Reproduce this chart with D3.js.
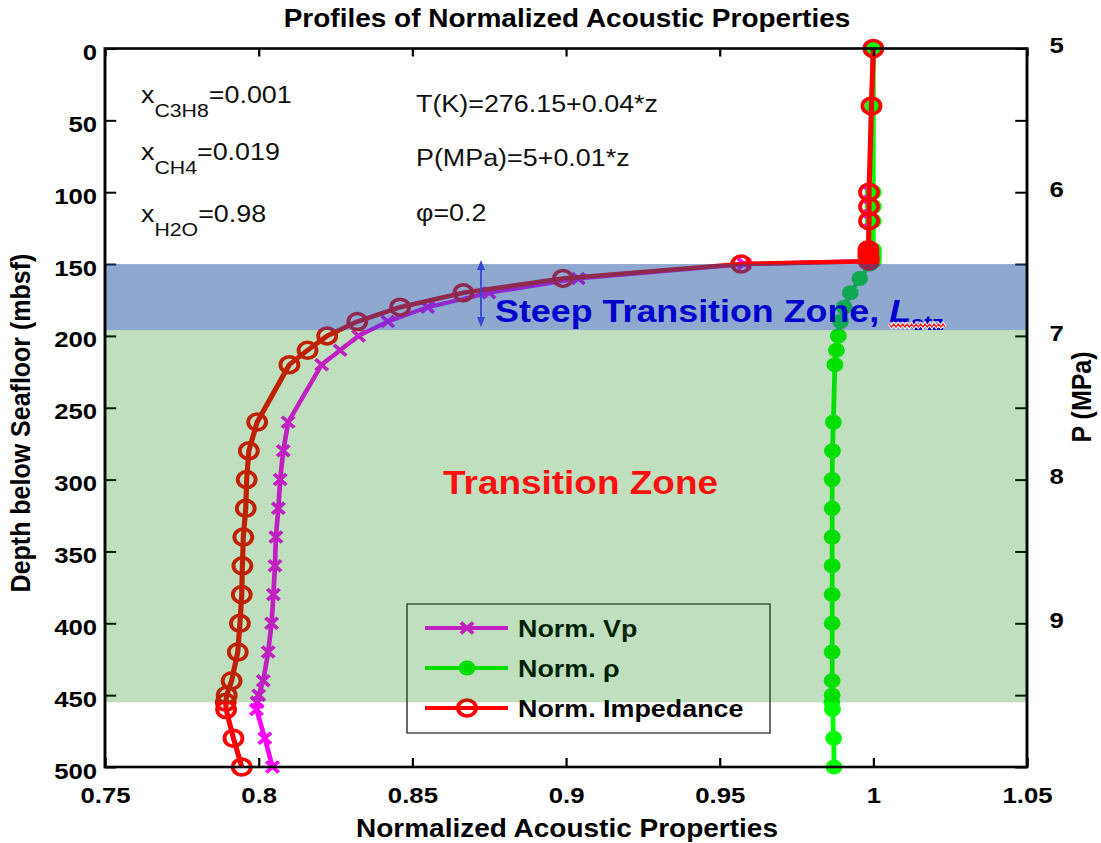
<!DOCTYPE html>
<html>
<head>
<meta charset="utf-8">
<script src="https://cdn.jsdelivr.net/npm/d3@7"></script>
<style>
  body { margin: 0; background: #fff; }
  svg { display: block; }
  text { font-family: "Liberation Sans", Arial, Helvetica, sans-serif; }
</style>
</head>
<body>
<div id="chart"></div>
<script>
// Depth samples (m below seafloor) and normalized acoustic properties
const depth = [0, 40, 100, 110, 120, 140, 142, 144, 146, 148, 150, 160, 170, 180, 190,
  200, 210, 220, 260, 280, 300, 320, 340, 360, 380, 400, 420, 440, 450, 455, 460, 480, 500];
const normVp = [1.0000, 0.9995, 0.9990, 0.9990, 0.9990, 0.9988, 0.9988, 0.9987, 0.9986, 0.9985,
  0.9580, 0.9040, 0.8750, 0.8550, 0.8420, 0.8325, 0.8265, 0.8205, 0.8096, 0.8080, 0.8070,
  0.8064, 0.8056, 0.8053, 0.8048, 0.8042, 0.8031, 0.8015, 0.8000, 0.7995, 0.7993, 0.8020, 0.8045];
const normRho = [1.0000, 1.0000, 1.0000, 1.0000, 1.0000, 1.0000, 1.0000, 1.0000, 1.0000, 1.0000,
  0.9990, 0.9956, 0.9925, 0.9905, 0.9893, 0.9886, 0.9880, 0.9875, 0.9870, 0.9867, 0.9866,
  0.9866, 0.9866, 0.9866, 0.9866, 0.9866, 0.9866, 0.9866, 0.9866, 0.9865, 0.9867, 0.9871, 0.9872];
const normImp = [1.0000, 0.9994, 0.9986, 0.9986, 0.9986, 0.9984, 0.9984, 0.9984, 0.9985, 0.9985,
  0.9570, 0.8990, 0.8666, 0.8460, 0.8321, 0.8223, 0.8159, 0.8100, 0.7995, 0.7968, 0.7961,
  0.7958, 0.7950, 0.7947, 0.7945, 0.7939, 0.7932, 0.7912, 0.7896, 0.7893, 0.7894, 0.7918, 0.7945];

// Axis ticks
const xTicks = [0.75, 0.8, 0.85, 0.9, 0.95, 1, 1.05];
const xTickLabels = ["0.75", "0.8", "0.85", "0.9", "0.95", "1", "1.05"];
const depthTicks = [0, 50, 100, 150, 200, 250, 300, 350, 400, 450, 500];
const pressureTicks = [5, 5.5, 6, 6.5, 7, 7.5, 8, 8.5, 9, 9.5, 10];
const pressureTickLabels = ["5", "", "6", "", "7", "", "8", "", "9", "", ""];

// Zones (depth ranges)
const zoneSteep = [150, 196];
const zoneTransition = [196, 455];

const seriesNames = ["Norm. Vp", "Norm. \u03c1", "Norm. Impedance"];

// Horizontal stretch of the drawing
const SX = 1.12;
const W = 1101, H = 843, VBW = W / SX;

const svg = d3.select("#chart").append("svg")
  .attr("width", W).attr("height", H)
  .attr("viewBox", `0 0 ${VBW} ${H}`)
  .attr("preserveAspectRatio", "none");

const plotLeft = 105 / SX, plotRight = 1027 / SX, plotTop = 48.5, plotBottom = 767;

const x = d3.scaleLinear().domain([0.75, 1.05]).range([plotLeft, plotRight]);
const y = d3.scaleLinear().domain([0, 500]).range([plotTop, plotBottom]);
const yP = d3.scaleLinear().domain([5, 10]).range([plotTop, plotBottom]);

const colVp = "#ff00ff", colRho = "#00ff00", colImp = "#ff0000";
const lineW = 4.2;

// ---- curves ----
const plot = svg.append("g");
function series(vals) { return depth.map((d, i) => ({ z: d, v: vals[i] })); }
const line = d3.line().x(d => x(d.v)).y(d => y(d.z));

// Vp
plot.append("path").datum(series(normVp)).attr("d", line)
  .attr("fill", "none").attr("stroke", colVp).attr("stroke-width", lineW).attr("stroke-linejoin", "round");
const xMark = a => `M${-a},${-a}L${a},${a}M${-a},${a}L${a},${-a}`;
plot.append("g").selectAll("path").data(series(normVp)).join("path")
  .attr("transform", d => `translate(${x(d.v)},${y(d.z)})`)
  .attr("d", xMark(5.5)).attr("stroke", colVp).attr("stroke-width", 3.5).attr("fill", "none");

// density
plot.append("path").datum(series(normRho)).attr("d", line)
  .attr("fill", "none").attr("stroke", colRho).attr("stroke-width", lineW).attr("stroke-linejoin", "round");
plot.append("g").selectAll("circle").data(series(normRho)).join("circle")
  .attr("cx", d => x(d.v)).attr("cy", d => y(d.z)).attr("r", 7.5).attr("fill", colRho);

// impedance
plot.append("path").datum(series(normImp)).attr("d", line)
  .attr("fill", "none").attr("stroke", colImp).attr("stroke-width", lineW + 0.4).attr("stroke-linejoin", "round");
plot.append("g").selectAll("circle").data(series(normImp)).join("circle")
  .attr("cx", d => x(d.v)).attr("cy", d => y(d.z)).attr("r", 8)
  .attr("fill", "none").attr("stroke", colImp).attr("stroke-width", 3.5);

// ---- legend ----
const lg = svg.append("g");
const lgX0 = 407 / SX, lgX1 = 770 / SX, lgY0 = 604, lgY1 = 733;
lg.append("rect").attr("x", lgX0).attr("y", lgY0).attr("width", lgX1 - lgX0).attr("height", lgY1 - lgY0)
  .attr("fill", "#fff").attr("stroke", "#333").attr("stroke-width", 1.3);
const rowY = [628, 668, 708];
const colors = [colVp, colRho, colImp];
seriesNames.forEach((name, i) => {
  const ry = rowY[i];
  lg.append("line").attr("x1", 425 / SX).attr("x2", 508 / SX).attr("y1", ry).attr("y2", ry)
    .attr("stroke", colors[i]).attr("stroke-width", lineW);
  const mx = 467 / SX;
  if (i === 0) lg.append("path").attr("transform", `translate(${mx},${ry})`).attr("d", xMark(5.5))
    .attr("stroke", colVp).attr("stroke-width", 3.5).attr("fill", "none");
  if (i === 1) lg.append("circle").attr("cx", mx).attr("cy", ry).attr("r", 7.5).attr("fill", colRho);
  if (i === 2) lg.append("circle").attr("cx", mx).attr("cy", ry).attr("r", 8)
    .attr("fill", "none").attr("stroke", colImp).attr("stroke-width", 3.5);
  lg.append("text").attr("x", 518 / SX).attr("y", ry + 9).attr("font-size", 24).attr("font-weight", "bold")
    .attr("fill", "#000").text(name);
});

// ---- axes ----
const fmtX = d => xTickLabels[xTicks.indexOf(d)];
const axB = svg.append("g").attr("transform", `translate(0,${plotBottom})`)
  .call(d3.axisBottom(x).tickValues(xTicks).tickFormat(fmtX).tickSizeInner(-9).tickSizeOuter(0).tickPadding(20));
const axT = svg.append("g").attr("transform", `translate(0,${plotTop})`)
  .call(d3.axisTop(x).tickValues(xTicks).tickFormat("").tickSizeInner(-8).tickSizeOuter(0));
const axL = svg.append("g").attr("transform", `translate(${plotLeft},0)`)
  .call(d3.axisLeft(y).tickValues(depthTicks).tickFormat(d3.format("d")).tickSizeInner(-10).tickSizeOuter(0).tickPadding(7));
const axR = svg.append("g").attr("transform", `translate(${plotRight},0)`)
  .call(d3.axisRight(yP).tickValues(pressureTicks)
    .tickFormat(d => pressureTickLabels[pressureTicks.indexOf(d)])
    .tickSizeInner(-10.5).tickSizeOuter(0).tickPadding(20));
[axB, axT, axL, axR].forEach(a => {
  a.select(".domain").remove();
  a.selectAll(".tick line").attr("stroke", "#000").attr("stroke-width", 2);
  a.selectAll(".tick text").attr("font-size", 23).attr("font-weight", "bold")
    .attr("font-family", "'Liberation Sans', Arial, sans-serif").attr("fill", "#000");
});
axL.selectAll(".tick text").attr("dy", "0.48em");
axR.selectAll(".tick text").attr("dy", "0.18em");

// ---- zone overlays ----
svg.append("rect").attr("x", plotLeft).attr("width", plotRight - plotLeft)
  .attr("y", y(zoneSteep[0])).attr("height", y(zoneSteep[1]) - y(zoneSteep[0]))
  .attr("fill", "rgb(31,82,160)").attr("fill-opacity", 0.5);
svg.append("rect").attr("x", plotLeft).attr("width", plotRight - plotLeft)
  .attr("y", y(zoneTransition[0])).attr("height", y(zoneTransition[1]) - y(zoneTransition[0]))
  .attr("fill", "rgb(0,128,0)").attr("fill-opacity", 0.25);

// plot frame
svg.append("rect").attr("x", plotLeft).attr("y", plotTop).attr("width", plotRight - plotLeft).attr("height", plotBottom - plotTop)
  .attr("fill", "none").attr("stroke", "#000").attr("stroke-width", 2.6);

// ---- titles ----
svg.append("text").attr("x", 567 / SX).attr("y", 27).attr("text-anchor", "middle")
  .attr("font-size", 25).attr("font-weight", "bold").text("Profiles of Normalized Acoustic Properties");
svg.append("text").attr("x", 567 / SX).attr("y", 837).attr("text-anchor", "middle")
  .attr("font-size", 25).attr("font-weight", "bold").text("Normalized Acoustic Properties");
svg.append("text").attr("transform", `translate(${30 / SX},${423}) rotate(-90)`).attr("text-anchor", "middle")
  .attr("font-size", 25).attr("font-weight", "bold").text("Depth below Seafloor (mbsf)");
svg.append("text").attr("transform", `translate(${1091 / SX},${397}) rotate(-90)`).attr("text-anchor", "middle")
  .attr("font-size", 25).attr("font-weight", "bold").text("P (MPa)");

// ---- composition / model annotations ----
const comp = [
  { sub: "C3H8", val: "=0.001", base: 103 },
  { sub: "CH4", val: "=0.019", base: 160 },
  { sub: "H2O", val: "=0.98", base: 222 }
];
comp.forEach(c => {
  const t = svg.append("text").attr("x", 141 / SX).attr("y", c.base).attr("font-size", 24).attr("fill", "#111");
  t.append("tspan").text("x");
  t.append("tspan").attr("dy", 14).attr("font-size", 19).text(c.sub);
  t.append("tspan").attr("dy", -14).text(c.val);
});
const model = [
  { txt: "T(K)=276.15+0.04*z", base: 112 },
  { txt: "P(MPa)=5+0.01*z", base: 166 },
  { txt: "\u03c6=0.2", base: 221 }
];
model.forEach(m => {
  svg.append("text").attr("x", 416 / SX).attr("y", m.base).attr("font-size", 24).attr("fill", "#111").text(m.txt);
});

// ---- zone labels ----
const steepLead = "Steep Transition Zone, ";
const st = svg.append("text").attr("x", 495 / SX).attr("y", 322)
  .attr("font-size", 32).attr("font-weight", "bold").attr("fill", "#0000cc");
st.append("tspan").text(steepLead);
st.append("tspan").attr("font-style", "italic").text("L");
st.append("tspan").attr("dy", 8).attr("font-size", 21).text("stz");
const sNode = st.node();
const lStart = 495 / SX + sNode.getSubStringLength(0, steepLead.length);
const sBox = sNode.getBBox();
const lEnd = sBox.x + sBox.width;
let wave = `M${lStart},324`;
for (let px = lStart, k = 0; px < lEnd; px += 2, k++) wave += `L${px + 2},${k % 2 ? 324 : 327}`;
svg.append("path").attr("d", wave).attr("fill", "none").attr("stroke", "#fff").attr("stroke-width", 3);
svg.append("path").attr("d", wave).attr("fill", "none").attr("stroke", "#ff2020").attr("stroke-width", 1.3);

svg.append("text").attr("x", 443 / SX).attr("y", 494)
  .attr("font-size", 33).attr("font-weight", "bold").attr("fill", "#ff1010").text("Transition Zone");

// double arrow marking the steep zone thickness
const arrX = 481 / SX, arrTop = 260, arrBot = 327, arrCol = "#3446d4";
svg.append("line").attr("x1", arrX).attr("x2", arrX).attr("y1", arrTop + 6).attr("y2", arrBot - 6)
  .attr("stroke", arrCol).attr("stroke-width", 1.6);
svg.append("path").attr("d", `M${arrX},${arrTop}L${arrX - 3.6},${arrTop + 10}L${arrX + 3.6},${arrTop + 10}Z`).attr("fill", arrCol);
svg.append("path").attr("d", `M${arrX},${arrBot}L${arrX - 3.6},${arrBot - 10}L${arrX + 3.6},${arrBot - 10}Z`).attr("fill", arrCol);
</script>
</body>
</html>
